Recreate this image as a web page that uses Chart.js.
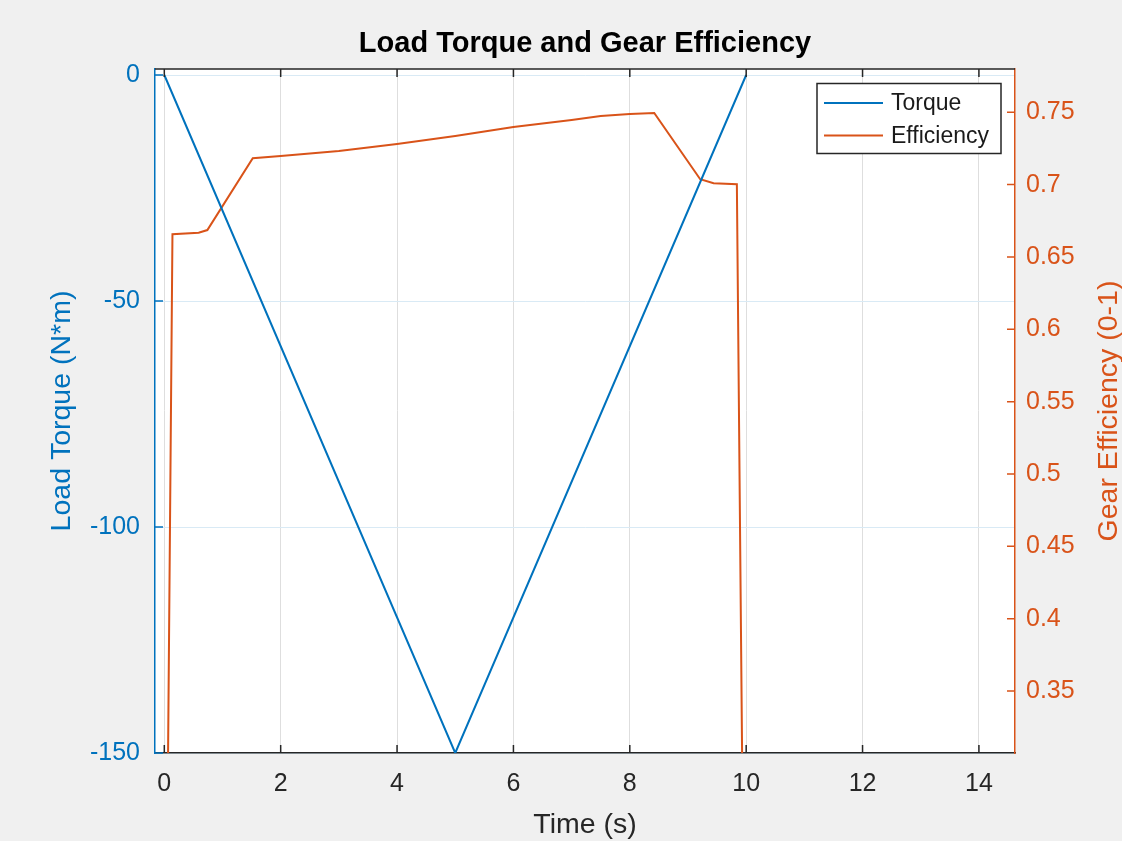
<!DOCTYPE html>
<html>
<head>
<meta charset="utf-8">
<script src="https://cdn.jsdelivr.net/npm/chart.js@4.4.1/dist/chart.umd.min.js"></script>
<style>
  html, body { margin: 0; padding: 0; background: #f0f0f0; }
  canvas { display: block; }
</style>
</head>
<body>
<canvas id="plot" width="1122" height="841"></canvas>
<script>
// ---- data ----
const torqueTime = [0, 5, 10];
const torqueValues = [0, -150, 0];

const effTime = [0, 0.14, 0.59, 0.74, 1.52, 2, 3, 4, 5, 6, 7, 7.5, 8, 8.42, 9.21, 9.44, 9.84, 10];
const effValues = [0, 0.6657, 0.6668, 0.6686, 0.7182, 0.7198, 0.7233, 0.7281, 0.7336, 0.7398,
                   0.7447, 0.7474, 0.7488, 0.7495, 0.7037, 0.7009, 0.7002, 0];

const timeTicks = [0, 2, 4, 6, 8, 10, 12, 14];
const torqueTicks = [-150, -100, -50, 0];
const effTicks = [0.35, 0.4, 0.45, 0.5, 0.55, 0.6, 0.65, 0.7, 0.75];

const timeRange = [-0.16, 14.62];
const torqueRange = [-150, 1.33];
const effRange = [0.3072, 0.7799];

const seriesLabels = ['Torque', 'Efficiency'];
const chartTitle = 'Load Torque and Gear Efficiency';
const xTitle = 'Time (s)';
const yLeftTitle = 'Load Torque (N*m)';
const yRightTitle = 'Gear Efficiency (0-1)';

// ---- style ----
const BLUE = '#0072BD';
const ORANGE = '#D95319';
const AXIS_GRAY = '#262626';
const FONT = '"Liberation Sans", Arial, Helvetica, sans-serif';
const TICK_LEN = 8;

const toPoints = (xs, ys) => xs.map((x, i) => ({ x: x, y: ys[i] }));
const useTicks = (list) => (scale) => { scale.ticks = list.map(v => ({ value: v })); };

// figure background + white axes area
const backdrop = {
  id: 'backdrop',
  beforeDraw(chart) {
    const { ctx, chartArea: a } = chart;
    ctx.save();
    ctx.fillStyle = '#f0f0f0';
    ctx.fillRect(0, 0, chart.width, chart.height);
    ctx.fillStyle = '#ffffff';
    ctx.fillRect(a.left, a.top, a.right - a.left, a.bottom - a.top);
    ctx.restore();
  }
};

// MATLAB-like inward ticks, top box line and the right axis label
const axesDecor = {
  id: 'axesDecor',
  afterDatasetsDraw(chart) {
    const { ctx, chartArea: a, scales } = chart;
    ctx.save();
    ctx.lineWidth = 1.5;

    ctx.strokeStyle = AXIS_GRAY;
    ctx.beginPath();
    ctx.moveTo(a.left, a.top);
    ctx.lineTo(a.right, a.top);
    scales.x.ticks.forEach(t => {
      const px = scales.x.getPixelForValue(t.value);
      ctx.moveTo(px, a.bottom);
      ctx.lineTo(px, a.bottom - TICK_LEN);
      ctx.moveTo(px, a.top);
      ctx.lineTo(px, a.top + TICK_LEN);
    });
    ctx.stroke();

    ctx.strokeStyle = BLUE;
    ctx.beginPath();
    scales.y.ticks.forEach(t => {
      const py = scales.y.getPixelForValue(t.value);
      ctx.moveTo(a.left, py);
      ctx.lineTo(a.left + TICK_LEN, py);
    });
    ctx.stroke();

    ctx.strokeStyle = ORANGE;
    ctx.beginPath();
    scales.y1.ticks.forEach(t => {
      const py = scales.y1.getPixelForValue(t.value);
      ctx.moveTo(a.right, py);
      ctx.lineTo(a.right - TICK_LEN, py);
    });
    ctx.stroke();

    // right label reads bottom-to-top, like the left one
    ctx.translate(1109, (a.top + a.bottom) / 2);
    ctx.rotate(-Math.PI / 2);
    ctx.fillStyle = ORANGE;
    ctx.font = '28.5px ' + FONT;
    ctx.textAlign = 'center';
    ctx.textBaseline = 'middle';
    ctx.fillText(yRightTitle, 0, 0);
    ctx.restore();
  }
};

// boxed legend in the upper right corner
const boxLegend = {
  id: 'boxLegend',
  afterDraw(chart) {
    const { ctx } = chart;
    const box = { x: 817, y: 83.5, w: 184, h: 70 };
    ctx.save();
    ctx.fillStyle = '#ffffff';
    ctx.fillRect(box.x, box.y, box.w, box.h);
    ctx.strokeStyle = AXIS_GRAY;
    ctx.lineWidth = 1.5;
    ctx.strokeRect(box.x, box.y, box.w, box.h);
    ctx.font = '23px ' + FONT;
    ctx.textBaseline = 'middle';
    ctx.textAlign = 'left';
    chart.data.datasets.forEach((ds, i) => {
      const y = 103 + i * 32.5;
      ctx.strokeStyle = ds.borderColor;
      ctx.lineWidth = 2;
      ctx.beginPath();
      ctx.moveTo(824, y);
      ctx.lineTo(883, y);
      ctx.stroke();
      ctx.fillStyle = '#1a1a1a';
      ctx.fillText(ds.label, 891, y + 1);
    });
    ctx.restore();
  }
};

new Chart(document.getElementById('plot'), {
  type: 'line',
  data: {
    datasets: [
      {
        label: seriesLabels[0],
        data: toPoints(torqueTime, torqueValues),
        yAxisID: 'y',
        borderColor: BLUE,
        borderWidth: 2,
        pointRadius: 0,
        tension: 0
      },
      {
        label: seriesLabels[1],
        data: toPoints(effTime, effValues),
        yAxisID: 'y1',
        borderColor: ORANGE,
        borderWidth: 2,
        pointRadius: 0,
        tension: 0
      }
    ]
  },
  options: {
    responsive: false,
    animation: false,
    events: [],
    layout: { padding: 0 },
    plugins: {
      legend: { display: false },
      tooltip: { enabled: false },
      title: {
        display: true,
        text: chartTitle,
        fullSize: false,
        color: '#000000',
        font: { family: FONT, size: 29, weight: 'bold', lineHeight: 1.2 },
        padding: { top: 27, bottom: 7.2 }
      }
    },
    scales: {
      x: {
        type: 'linear',
        min: timeRange[0],
        max: timeRange[1],
        afterBuildTicks: useTicks(timeTicks),
        afterFit: (s) => { s.height = 88; },
        grid: { color: '#dedede', lineWidth: 1, drawTicks: false },
        border: { color: AXIS_GRAY, width: 1.5 },
        ticks: {
          color: AXIS_GRAY,
          padding: 16,
          maxRotation: 0,
          font: { family: FONT, size: 25 },
          callback: (v) => String(v)
        },
        title: {
          display: true,
          text: xTitle,
          color: AXIS_GRAY,
          font: { family: FONT, size: 28.5, lineHeight: 1.14 },
          padding: { top: 0, bottom: 0 }
        }
      },
      y: {
        type: 'linear',
        position: 'left',
        min: torqueRange[0],
        max: torqueRange[1],
        afterBuildTicks: useTicks(torqueTicks),
        afterFit: (s) => { s.width = 155; },
        grid: { color: 'rgb(217,234,245)', lineWidth: 1, drawTicks: false },
        border: { color: BLUE, width: 1.5 },
        ticks: {
          color: BLUE,
          padding: 15,
          font: { family: FONT, size: 25 },
          callback: (v) => String(v)
        },
        title: {
          display: true,
          text: yLeftTitle,
          color: BLUE,
          font: { family: FONT, size: 28.5, lineHeight: 1.2 },
          padding: { top: 45.4, bottom: 0 }
        }
      },
      y1: {
        type: 'linear',
        position: 'right',
        min: effRange[0],
        max: effRange[1],
        afterBuildTicks: useTicks(effTicks),
        afterFit: (s) => { s.width = 107; },
        grid: { drawOnChartArea: false, drawTicks: false },
        border: { color: ORANGE, width: 1.5 },
        ticks: {
          color: ORANGE,
          padding: 11,
          font: { family: FONT, size: 25 },
          callback: (v) => String(v)
        }
      }
    }
  },
  plugins: [backdrop, axesDecor, boxLegend]
});
</script>
</body>
</html>
